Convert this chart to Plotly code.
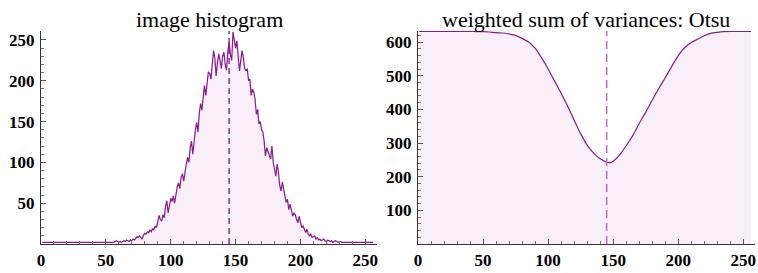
import plotly.graph_objects as go

# ---- data ----
hist_x = list(range(1, 257))
hist_y = (
    [2] * 55 +
    [2, 3, 4, 3, 2, 3, 2, 3, 4, 3, 5, 4, 3, 5, 4, 6, 5, 7, 9, 8,          # 56-75
     10, 8, 6, 11, 13, 12, 15, 14, 17, 15, 19, 17, 22, 20, 27, 35, 30, 28, 36, 32,  # 76-95
     46, 53, 38, 48, 56, 52, 59, 50, 62, 70, 75, 68, 82, 86, 77, 90, 98, 106, 100, 118,  # 96-115
     126, 110, 130, 140, 149, 137, 160, 172, 164, 180, 194, 182, 200, 211, 209, 202, 220, 237, 228, 206,  # 116-135
     222, 233, 225, 215, 230, 235, 220, 213, 236, 247, 232, 225, 260, 250, 240, 249, 230, 212, 225, 237,  # 136-155
     228, 215, 212, 215, 200, 202, 182, 190, 186, 178, 159, 165, 147, 150, 140, 137, 126, 108, 118, 114,  # 156-175
     109, 104, 120, 100, 92, 83, 98, 88, 72, 65, 76, 68, 58, 51, 55, 42, 49, 40, 34, 38,  # 176-195
     36, 30, 26, 34, 27, 20, 22, 18, 14, 18, 12, 10, 12, 8, 9, 10, 6, 8, 5, 6,  # 196-215
     4, 5, 6, 4, 3, 5, 4, 3, 4, 2, 3, 4, 3, 2, 3, 2] +                    # 216-231
    [2] * 25                                                              # 232-256
)

otsu_x = [1, 5, 10, 15, 20, 25, 30, 35, 40, 45, 50, 55, 60, 65, 70, 75, 80, 85, 90, 95,
          100, 105, 110, 115, 120, 125, 130, 135, 140, 145, 148, 150, 155, 160, 165, 170,
          175, 180, 185, 190, 195, 200, 205, 210, 215, 220, 225, 230, 235, 240, 245, 250, 256]
otsu_y = [632, 632, 632, 632, 632, 632, 632, 632, 632, 631, 631, 630, 628, 627, 624, 620, 611, 600, 582, 553,
          520, 484, 448, 410, 368, 328, 294, 270, 253, 243, 242, 246, 265, 292, 322, 358,
          392, 427, 462, 494, 528, 560, 584, 599, 609, 619, 626, 629, 631, 632, 632, 632, 632]

threshold = 145
hist_ticks = [0, 50, 100, 150, 200, 250]
hist_yticks = [50, 100, 150, 200, 250]
otsu_yticks = [100, 200, 300, 400, 500, 600]
titles = ["image histogram", "weighted sum of variances: Otsu"]

LINE = "rgb(138,24,142)"
FILL = "rgb(248,239,248)"
DASH_L = "rgb(120,20,125)"
DASH_R = "rgb(190,100,195)"

fig = go.Figure()
fig.add_trace(go.Scatter(x=hist_x, y=hist_y, mode="lines", line=dict(color=LINE, width=1.2),
                         fill="tozeroy", fillcolor=FILL, xaxis="x", yaxis="y"))
fig.add_trace(go.Scatter(x=[threshold, threshold], y=[0, 261], mode="lines",
                         line=dict(color=DASH_L, width=1.3, dash="6px,4px"), xaxis="x", yaxis="y"))
fig.add_trace(go.Scatter(x=otsu_x, y=otsu_y, mode="lines",
                         line=dict(color=LINE, width=1.2, shape="spline", smoothing=0.6),
                         fill="tozeroy", fillcolor=FILL, xaxis="x2", yaxis="y2"))
fig.add_trace(go.Scatter(x=[threshold, threshold], y=[0, 633], mode="lines",
                         line=dict(color=DASH_R, width=1.5, dash="8px,5px"), xaxis="x2", yaxis="y2"))

tickfont = dict(family="Liberation Serif", size=17, color="black", weight="bold")
minor_x = dict(ticks="inside", ticklen=3, dtick=10, tick0=0, tickcolor="#777")
common_x = dict(range=[0, 259], showgrid=False, zeroline=False, showline=True, linecolor="#333",
                linewidth=1, ticks="inside", ticklen=5, tickcolor="#555", tickfont=tickfont,
                tickvals=hist_ticks, ticklabelstandoff=1, automargin=False, minor=minor_x)
common_y = dict(showgrid=False, zeroline=False, showline=True, linecolor="#333", linewidth=1,
                ticks="inside", ticklen=5, tickcolor="#555", tickfont=tickfont,
                automargin=False, ticklabelstandoff=2)
ydom = [29 / 273, 242 / 273]

fig.update_layout(
    width=758, height=273, margin=dict(l=0, r=0, t=0, b=0, autoexpand=False),
    paper_bgcolor="white", plot_bgcolor="white", showlegend=False,
    font=dict(family="Liberation Serif", color="black"),
    xaxis=dict(domain=[41 / 758, 377 / 758], anchor="y", **common_x),
    xaxis2=dict(domain=[418 / 758, 755 / 758], anchor="y2", **common_x),
    yaxis=dict(domain=ydom, anchor="x", range=[0, 261], tickvals=hist_yticks,
               minor=dict(ticks="inside", ticklen=3, dtick=10, tick0=0, tickcolor="#777"),
               **common_y),
    yaxis2=dict(domain=ydom, anchor="x2", range=[0, 633], tickvals=otsu_yticks,
                minor=dict(ticks="inside", ticklen=3, dtick=20, tick0=0, tickcolor="#777"),
                **common_y),
    annotations=[
        dict(text=titles[0], x=209 / 758, y=1 - 20 / 273, xref="paper", yref="paper",
             showarrow=False, font=dict(family="Liberation Serif", size=22, color="black"),
             xanchor="center", yanchor="middle"),
        dict(text=titles[1], x=586 / 758, y=1 - 20 / 273, xref="paper", yref="paper",
             showarrow=False, font=dict(family="Liberation Serif", size=22, color="black"),
             xanchor="center", yanchor="middle"),
    ],
)
for t in fig.data:
    t.hoverinfo = "skip"

fig.write_html("out.html", config={"displayModeBar": False},
               post_script="document.body.style.margin='0';document.body.style.overflow='hidden';")
